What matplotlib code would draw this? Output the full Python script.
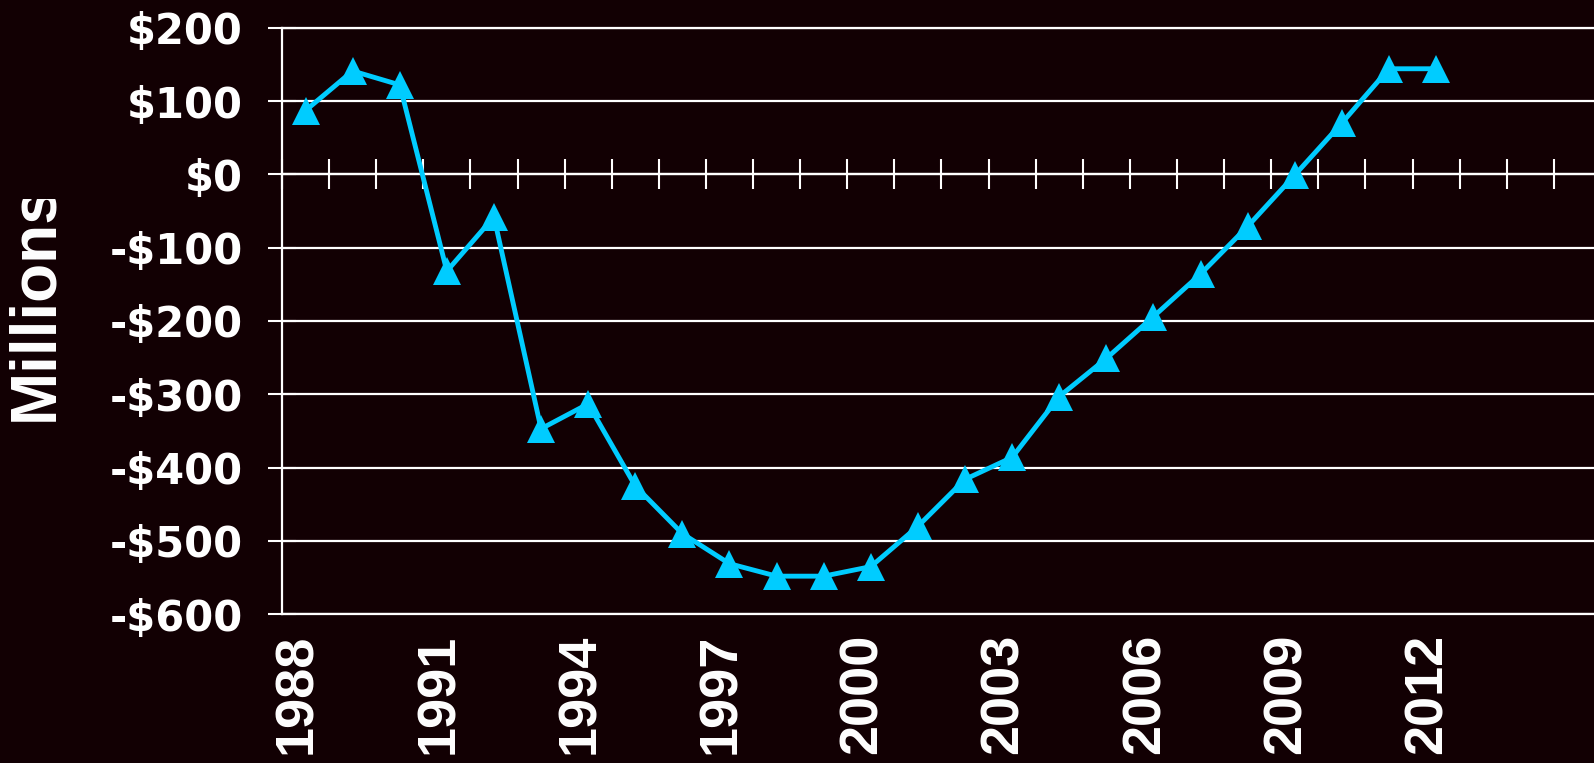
import matplotlib.pyplot as plt
from matplotlib.transforms import ScaledTranslation, Bbox
import numpy as np

years = list(range(1988, 2013))
balance = [87, 141, 122, -132, -58, -347, -313, -425, -490, -531, -548, -548,
           -535, -480, -416, -386, -303, -251, -194, -136, -71, -1, 70, 144, 144]

year_labels = [1988, 1991, 1994, 1997, 2000, 2003, 2006, 2009, 2012]
y_ticks = [-600, -500, -400, -300, -200, -100, 0, 100, 200]
y_labels = ['-$600', '-$500', '-$400', '-$300', '-$200', '-$100', '$0', '$100', '$200']

bg = '#120003'
cyan = '#00CCFF'

fig = plt.figure(figsize=(15.94, 7.63), dpi=100, facecolor=bg)
# axes run off the right edge of the picture, like the cropped original
ax = fig.add_axes([0.1769, 0.1949, 0.857, 0.7688], facecolor=bg)

ax.set_xlim(1987.5, 2016.5)
ax.set_ylim(-600, 200)

ax.plot(years, balance, color=cyan, lw=3.5, marker='^', ms=20,
        markeredgewidth=0, zorder=5, clip_on=False)

# horizontal gridlines
ax.set_yticks(y_ticks)
ax.set_yticklabels(y_labels, family='DejaVu Sans', fontweight='bold',
                   fontsize=30, color='white')
ax.yaxis.grid(True, color='white', lw=1.6, zorder=1)
ax.set_axisbelow(True)
ax.tick_params(axis='y', direction='inout', length=20, width=1.5,
               color='white', pad=18)

for side in ['left', 'top', 'bottom']:
    ax.spines[side].set_color('white')
    ax.spines[side].set_linewidth(1.6)
ax.spines['right'].set_visible(False)

# year labels at the bottom, no tick marks there
ax.set_xticks(year_labels)
ax.set_xticklabels([str(y) for y in year_labels], family='Liberation Sans',
                   fontweight='bold', fontsize=39, color='white', rotation=90)
ax.tick_params(axis='x', length=0, pad=14)
shift = ScaledTranslation(-8 / 100, 0, fig.dpi_scale_trans)
for lab in ax.get_xticklabels():
    lab.set_transform(lab.get_transform() + shift)

# category tick marks crossing the zero line
zero_ax = ax.secondary_xaxis(0, transform=ax.transData)
zero_ax.set_xticks(np.arange(1987.5, 2017, 1.0))
zero_ax.tick_params(direction='inout', length=21, width=1.5, color='white',
                    labeltop=False, labelbottom=False)
for sp in zero_ax.spines.values():
    sp.set_color('white')
    sp.set_linewidth(1.6)

# the original label is cut off at the top, inside its text box
ylab = fig.text(35 / 1594, 461 / 763, 'Millions', rotation=90, ha='center',
                va='center', family='Liberation Sans', fontweight='bold',
                fontsize=46, color='white')
ylab.set_clip_box(Bbox([[0, 0], [200, 564]]))
ylab.set_clip_on(True)

fig.savefig('out.png', dpi=100, facecolor=bg)
